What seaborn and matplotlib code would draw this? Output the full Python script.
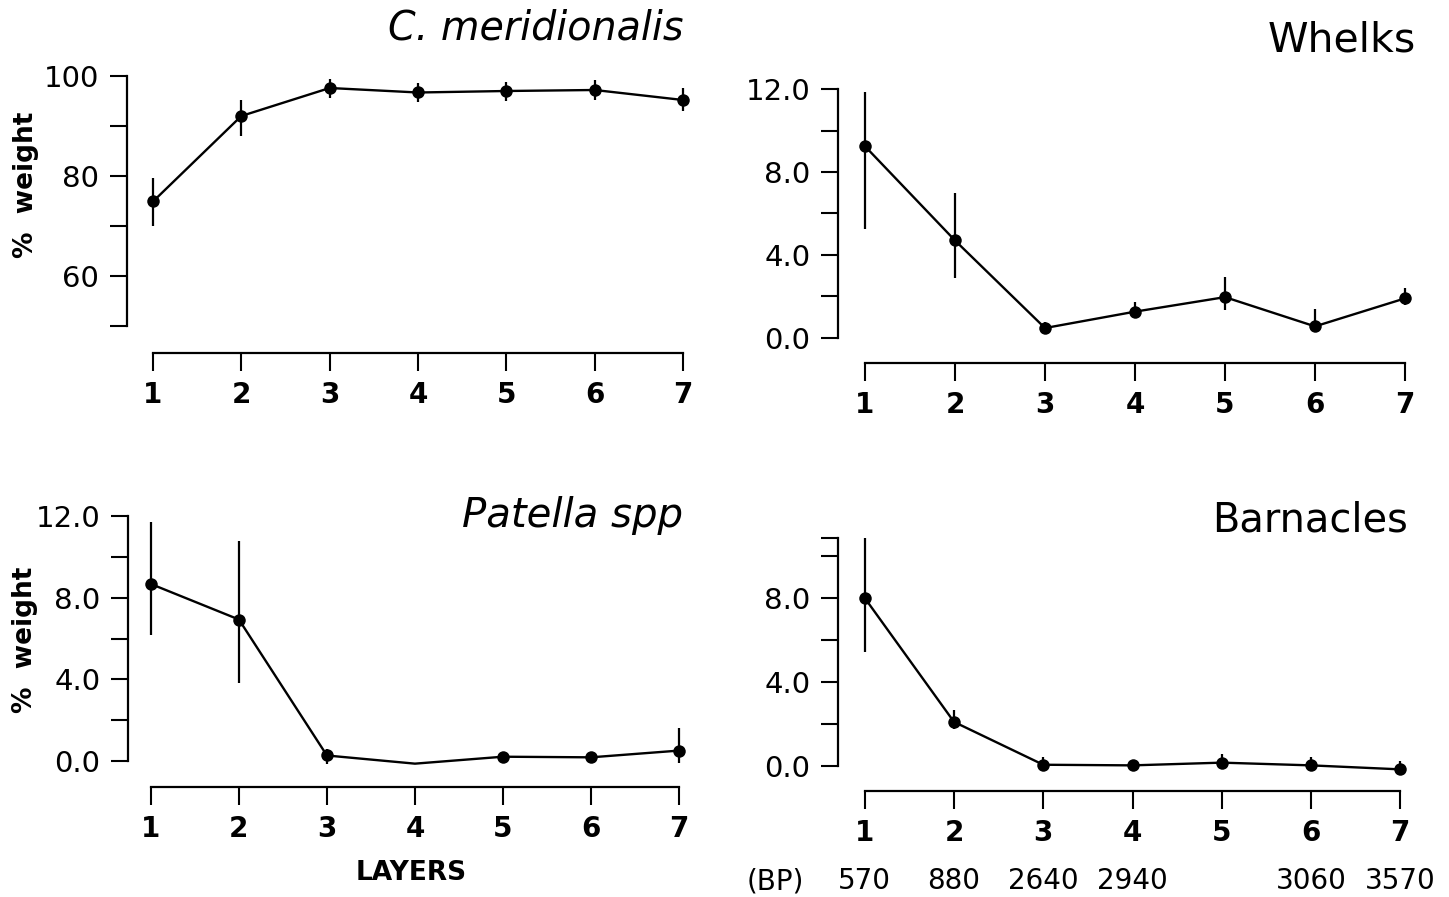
import numpy as np
import pandas as pd
import matplotlib.pyplot as plt
import matplotlib.transforms as mtransforms
import seaborn as sns

# layers and BP dates
layers = [1, 2, 3, 4, 5, 6, 7]
bp_dates = ["570", "880", "2640", "2940", "", "3060", "3570"]

# C. meridionalis (% weight): mean, lower and upper ends of bars
cmer_mean = [74.9, 92.0, 97.6, 96.7, 97.0, 97.2, 95.2]
cmer_lo = [70.0, 88.0, 95.6, 94.7, 95.0, 95.2, 93.0]
cmer_hi = [79.5, 95.2, 99.4, 98.5, 98.8, 99.1, 97.5]

# Whelks
whelk_mean = [9.24, 4.70, 0.48, 1.27, 1.97, 0.56, 1.91]
whelk_lo = [5.24, 2.90, 0.22, 0.95, 1.34, 0.27, 1.59]
whelk_hi = [11.86, 7.00, 0.75, 1.75, 2.93, 1.39, 2.39]

# Patella spp (layer 4 has no dot, 4-6 no bars)
patella_mean = [8.67, 6.93, 0.27, -0.13, 0.21, 0.18, 0.51]
patella_lo = [6.19, 3.81, -0.13, np.nan, np.nan, np.nan, -0.08]
patella_hi = [11.73, 10.77, 0.61, np.nan, np.nan, np.nan, 1.63]
patella_dots = [0, 1, 2, 4, 5, 6]

# Barnacles
barn_mean = [8.0, 2.10, 0.06, 0.03, 0.16, 0.03, -0.16]
barn_lo = [5.45, 1.74, -0.13, -0.25, -0.10, -0.20, -0.45]
barn_hi = [10.87, 2.69, 0.43, 0.30, 0.56, 0.43, 0.24]

sns.set_theme(style="ticks")
plt.rcParams["font.family"] = ["DejaVu Sans"]
plt.rcParams["text.color"] = "black"
plt.rcParams["xtick.color"] = "black"
plt.rcParams["ytick.color"] = "black"

W, H = 1449, 897
fig = plt.figure(figsize=(W / 100, H / 100), dpi=100)


def add_panel(left, top, right, bottom):
    return fig.add_axes([left / W, 1 - bottom / H, (right - left) / W, (bottom - top) / H])


def ftext(x, y, s, **kw):
    fig.text(x / W, 1 - y / H, s, **kw)


def draw_panel(ax, mean, lo, hi, xlim, ylim, ybounds, yticks, ylabels, offset, dots=None):
    df = pd.DataFrame({"layer": layers, "mean": mean})
    ax.vlines(layers, lo, hi, color="black", lw=1.6, clip_on=False)
    sns.lineplot(data=df, x="layer", y="mean", ax=ax, color="black", lw=1.7,
                 marker="o", markersize=9, mec="black", mew=0,
                 markevery=dots, clip_on=False)
    ax.set_xlim(*xlim)
    ax.set_ylim(*ylim)
    sns.despine(ax=ax)
    ax.spines["bottom"].set_position(("outward", offset))
    ax.spines["bottom"].set_bounds(1, 7)
    ax.spines["left"].set_bounds(*ybounds)
    for s in ["bottom", "left"]:
        ax.spines[s].set_linewidth(1.6)
        ax.spines[s].set_color("black")
    ax.set_xticks(layers)
    ax.set_xticklabels([str(v) for v in layers], fontweight="bold", fontsize=20)
    ax.set_yticks(yticks)
    ax.set_yticklabels(ylabels, fontsize=21)
    ax.tick_params(axis="x", direction="out", length=13, width=1.5, pad=7)
    ax.tick_params(axis="y", direction="out", length=12, width=1.5, pad=8)
    ax.set_xlabel("")
    ax.set_ylabel("")
    ax.patch.set_alpha(0)


# C. meridionalis
ax1 = add_panel(126.5, 76, 709.5, 326)
draw_panel(ax1, cmer_mean, cmer_lo, cmer_hi, (0.7, 7.3), (50, 100), (50, 100),
           [50, 60, 70, 80, 90, 100], ["", "60", "", "80", "", "100"], 19.4)

# Whelks
ax2 = add_panel(838, 89, 1432, 338)
draw_panel(ax2, whelk_mean, whelk_lo, whelk_hi, (0.7, 7.3), (0, 12), (0, 12),
           [0, 2, 4, 6, 8, 10, 12], ["0.0", "", "4.0", "", "8.0", "", "12.0"], 18)

# Patella spp
ax3 = add_panel(128, 516, 705.4, 761)
draw_panel(ax3, patella_mean, patella_lo, patella_hi, (0.74, 7.3), (0, 12), (0, 12),
           [0, 2, 4, 6, 8, 10, 12], ["0.0", "", "4.0", "", "8.0", "", "12.0"], 18.7,
           dots=patella_dots)

# Barnacles
ax4 = add_panel(838, 538, 1427, 766)
draw_panel(ax4, barn_mean, barn_lo, barn_hi, (0.7, 7.3), (0, 10.86), (0, 10.86),
           [0, 2, 4, 6, 8, 10, 10.86], ["0.0", "", "4.0", "", "8.0", "", ""], 18)

# titles
ftext(683, 39, "C. meridionalis", ha="right", va="baseline", fontsize=28.5, style="italic")
ftext(1416, 51, "Whelks", ha="right", va="baseline", fontsize=29.5)
ftext(683, 527, "Patella spp", ha="right", va="baseline", fontsize=29, style="italic")
ftext(1408, 531, "Barnacles", ha="right", va="baseline", fontsize=28.7)

# y labels
ftext(26, 185, "%  weight", rotation=90, ha="center", va="center", fontsize=19, fontweight="bold")
ftext(25, 640, "%  weight", rotation=90, ha="center", va="center", fontsize=19, fontweight="bold")

# x label and BP row
ftext(411, 873, "LAYERS", ha="center", va="center", fontsize=19, fontweight="bold")
trans = mtransforms.blended_transform_factory(ax4.transData, fig.transFigure)
for x, lab in zip(layers, bp_dates):
    ax4.text(x, 1 - 881 / H, lab, transform=trans, ha="center", va="center", fontsize=20)
ftext(775, 881, "(BP)", ha="center", va="center", fontsize=20)

fig.savefig("out.png", dpi=100)
